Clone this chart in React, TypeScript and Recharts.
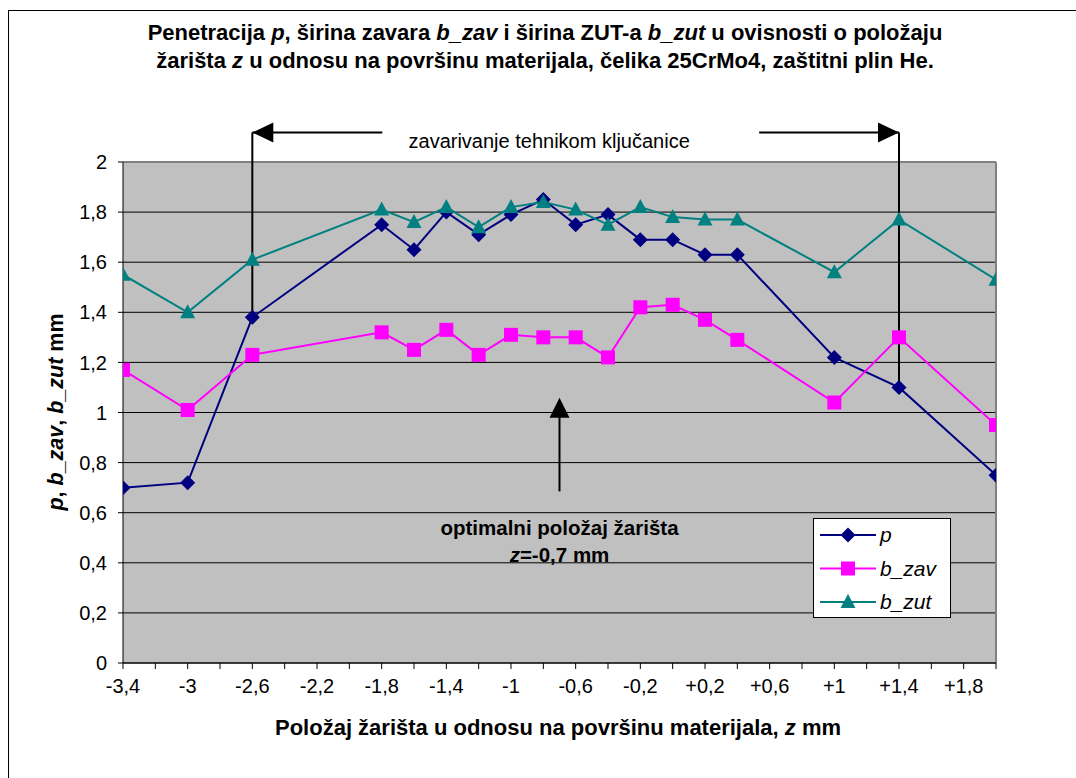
import React from "react";
import {
  CartesianGrid,
  Legend,
  Line,
  LineChart,
  ReferenceDot,
  ReferenceLine,
  XAxis,
  YAxis,
} from "recharts";

// z position of focus (mm) and measured values
const zValues = [-3.4, -3.0, -2.6, -1.8, -1.6, -1.4, -1.2, -1.0, -0.8, -0.6, -0.4, -0.2, 0, 0.2, 0.4, 1.0, 1.4, 2.0];
const pValues = [0.7, 0.72, 1.38, 1.75, 1.65, 1.8, 1.71, 1.79, 1.85, 1.75, 1.79, 1.69, 1.69, 1.63, 1.63, 1.22, 1.1, 0.75];
const bZavValues = [1.17, 1.01, 1.23, 1.32, 1.25, 1.33, 1.23, 1.31, 1.3, 1.3, 1.22, 1.42, 1.43, 1.37, 1.29, 1.04, 1.3, 0.95];
const bZutValues = [1.55, 1.4, 1.61, 1.81, 1.76, 1.82, 1.74, 1.82, 1.84, 1.81, 1.75, 1.82, 1.78, 1.77, 1.77, 1.56, 1.77, 1.53];

const xTicks = [-3.4, -3.2, -3.0, -2.8, -2.6, -2.4, -2.2, -2.0, -1.8, -1.6, -1.4, -1.2, -1.0, -0.8, -0.6, -0.4, -0.2, 0, 0.2, 0.4, 0.6, 0.8, 1.0, 1.2, 1.4, 1.6, 1.8, 2.0];
const xLabelTicks = [-3.4, -3.0, -2.6, -2.2, -1.8, -1.4, -1.0, -0.6, -0.2, 0.2, 0.6, 1.0, 1.4, 1.8];
const yTicks = [0, 0.2, 0.4, 0.6, 0.8, 1, 1.2, 1.4, 1.6, 1.8, 2];

// annotations (data units)
const keyholeFrom = -2.6;
const keyholeTo = 1.4;
const bracketY = 2.118;
const bracketGap = [-1.796, 0.535];
const bracketTextZ = -0.764;
const optimumZ = -0.7;
const optimumArrow = [0.685, 1.059];

const data = zValues.map((z, i) => ({ z, p: pValues[i], bZav: bZavValues[i], bZut: bZutValues[i] }));

const NAVY = "#000080";
const MAGENTA = "#FF00FF";
const TEAL = "#008080";
const FONT = "'Liberation Sans', Arial, sans-serif";

const fmt = (v: number) => {
  const s = String(Math.round(v * 10) / 10).replace(".", ",");
  return v > 0 ? "+" + s : s;
};

const xTickFormat = (v: number) => (xLabelTicks.some((t) => Math.abs(t - v) < 1e-6) ? fmt(v) : "");

function Marker({ kind, cx, cy, color }: { kind: string; cx: number; cy: number; color: string }) {
  if (kind === "diamond")
    return <path d={`M${cx},${cy - 7.5}L${cx + 7.5},${cy}L${cx},${cy + 7.5}L${cx - 7.5},${cy}Z`} fill={color} />;
  if (kind === "square") return <rect x={cx - 7} y={cy - 7} width={14} height={14} fill={color} />;
  return <path d={`M${cx},${cy - 8}L${cx + 7.5},${cy + 6}L${cx - 7.5},${cy + 6}Z`} fill={color} />;
}

const dotFor = (kind: string, color: string) => (props: any) =>
  <Marker key={`${kind}-${props.index}`} kind={kind} cx={props.cx} cy={props.cy} color={color} />;

const legendItems = [
  { name: "p", kind: "diamond", color: NAVY },
  { name: "b_zav", kind: "square", color: MAGENTA },
  { name: "b_zut", kind: "triangle", color: TEAL },
];

function LegendBox() {
  return (
    <svg width={138} height={100} style={{ display: "block" }}>
      <rect x={0.5} y={0.5} width={137} height={99} fill="#fff" stroke="#000" />
      {legendItems.map((it, i) => {
        const y = 17 + i * 33.5;
        return (
          <g key={it.name}>
            <line x1={7} x2={63} y1={y} y2={y} stroke={it.color} strokeWidth={2} />
            <Marker kind={it.kind} cx={35} cy={y} color={it.color} />
            <text x={67} y={y + 7} fontSize={21} fontStyle="italic" fontFamily={FONT} fill="#000">
              {it.name}
            </text>
          </g>
        );
      })}
    </svg>
  );
}

export default function App() {
  const pAt = (z: number) => pValues[zValues.indexOf(z)];
  const black = { stroke: "#000", strokeWidth: 2 };
  return (
    <div style={{ position: "absolute", left: 0, top: 0, width: 1076, height: 778, background: "#fff", fontFamily: FONT }}>
      <div style={{ position: "absolute", left: 8, top: 10, right: 0, bottom: 0, borderTop: "1px solid #000", borderLeft: "1px solid #000" }} />
      <LineChart width={1076} height={778} data={data} margin={{ top: 162, right: 80, bottom: 85, left: 0 }}>
        <CartesianGrid vertical={false} stroke="#000" fill="#C0C0C0" fillOpacity={1} />
        <XAxis
          dataKey="z"
          type="number"
          domain={[-3.4, 2]}
          ticks={xTicks}
          interval={0}
          tickFormatter={xTickFormat}
          height={30}
          tickSize={6}
          tickMargin={10}
          axisLine={{ stroke: "#000" }}
          tickLine={{ stroke: "#000" }}
          tick={{ fill: "#000", fontSize: 20, fontFamily: FONT }}
          allowDataOverflow
        />
        <YAxis
          type="number"
          domain={[0, 2]}
          ticks={yTicks}
          interval={0}
          width={123}
          tickSize={5}
          tickMargin={11}
          tickFormatter={(v: number) => String(v).replace(".", ",")}
          axisLine={{ stroke: "#000" }}
          tickLine={{ stroke: "#000" }}
          tick={{ fill: "#000", fontSize: 20, fontFamily: FONT }}
          allowDataOverflow
        />
        <ReferenceLine y={2} stroke="#808080" strokeWidth={2} />
        <ReferenceLine x={2} stroke="#808080" strokeWidth={2} />
        <Line dataKey="p" stroke={NAVY} strokeWidth={2} dot={dotFor("diamond", NAVY)} isAnimationActive={false} />
        <Line dataKey="bZav" stroke={MAGENTA} strokeWidth={2} dot={dotFor("square", MAGENTA)} isAnimationActive={false} />
        <Line dataKey="bZut" stroke={TEAL} strokeWidth={2} dot={dotFor("triangle", TEAL)} isAnimationActive={false} />

        {/* keyhole welding range bracket */}
        <ReferenceLine ifOverflow="visible" segment={[{ x: keyholeFrom, y: bracketY }, { x: keyholeFrom, y: pAt(keyholeFrom) }]} {...black} />
        <ReferenceLine ifOverflow="visible" segment={[{ x: keyholeTo, y: bracketY }, { x: keyholeTo, y: pAt(keyholeTo) }]} {...black} />
        <ReferenceLine ifOverflow="visible" segment={[{ x: keyholeFrom, y: bracketY }, { x: bracketGap[0], y: bracketY }]} {...black} />
        <ReferenceLine ifOverflow="visible" segment={[{ x: bracketGap[1], y: bracketY }, { x: keyholeTo, y: bracketY }]} {...black} />
        <ReferenceDot
          x={keyholeFrom}
          y={bracketY}
          ifOverflow="visible"
          shape={(p: any) => <path d={`M${p.cx},${p.cy}l21,-10v20z`} fill="#000" />}
        />
        <ReferenceDot
          x={keyholeTo}
          y={bracketY}
          ifOverflow="visible"
          shape={(p: any) => <path d={`M${p.cx},${p.cy}l-21,-10v20z`} fill="#000" />}
        />
        <ReferenceDot
          x={bracketTextZ}
          y={bracketY}
          ifOverflow="visible"
          shape={(p: any) => (
            <text x={p.cx} y={p.cy + 16} textAnchor="middle" fontSize={20} fontFamily={FONT} fill="#000">
              zavarivanje tehnikom ključanice
            </text>
          )}
        />

        {/* optimal focus position arrow */}
        <ReferenceLine segment={[{ x: optimumZ, y: optimumArrow[0] }, { x: optimumZ, y: optimumArrow[1] - 0.05 }]} {...black} />
        <ReferenceDot
          x={optimumZ}
          y={optimumArrow[1]}
          shape={(p: any) => <path d={`M${p.cx},${p.cy}l10,20h-20z`} fill="#000" />}
        />
        <ReferenceDot
          x={optimumZ}
          y={optimumArrow[0]}
          shape={(p: any) => (
            <g fontFamily={FONT} fontSize={20.5} fontWeight="bold" fill="#000">
              <text x={p.cx} y={p.cy + 44} textAnchor="middle">optimalni položaj žarišta</text>
              <text x={p.cx} y={p.cy + 71} textAnchor="middle">
                <tspan fontStyle="italic">z</tspan>=-0,7 mm
              </text>
            </g>
          )}
        />

        <Legend
          layout="vertical"
          align="center"
          verticalAlign="middle"
          wrapperStyle={{ left: 813, top: 518, width: 138, height: 100 }}
          content={() => <LegendBox />}
        />
      </LineChart>

      {/* title */}
      <div
        style={{
          position: "absolute",
          left: 45,
          top: 19,
          width: 1000,
          textAlign: "center",
          fontWeight: "bold",
          fontSize: 22,
          lineHeight: "28px",
          color: "#000",
        }}
      >
        Penetracija <i>p</i>, širina zavara <i>b_zav</i> i širina ZUT-a <i>b_zut</i> u ovisnosti o položaju
        <br />
        žarišta <i>z</i> u odnosu na površinu materijala, čelika 25CrMo4, zaštitni plin He.
      </div>

      {/* axis titles */}
      <div
        style={{
          position: "absolute",
          left: 208,
          top: 716,
          width: 700,
          textAlign: "center",
          fontWeight: "bold",
          fontSize: 22,
          lineHeight: "24px",
          color: "#000",
        }}
      >
        Položaj žarišta u odnosu na površinu materijala, <i>z</i> mm
      </div>
      <svg style={{ position: "absolute", left: 0, top: 0 }} width={120} height={778}>
        <text
          transform="translate(63,412) rotate(-90)"
          textAnchor="middle"
          fontFamily={FONT}
          fontWeight="bold"
          fontSize={21.5}
          fill="#000"
        >
          <tspan fontStyle="italic">p</tspan>, <tspan fontStyle="italic">b_zav</tspan>, <tspan fontStyle="italic">b_zut</tspan> mm
        </text>
      </svg>
    </div>
  );
}
